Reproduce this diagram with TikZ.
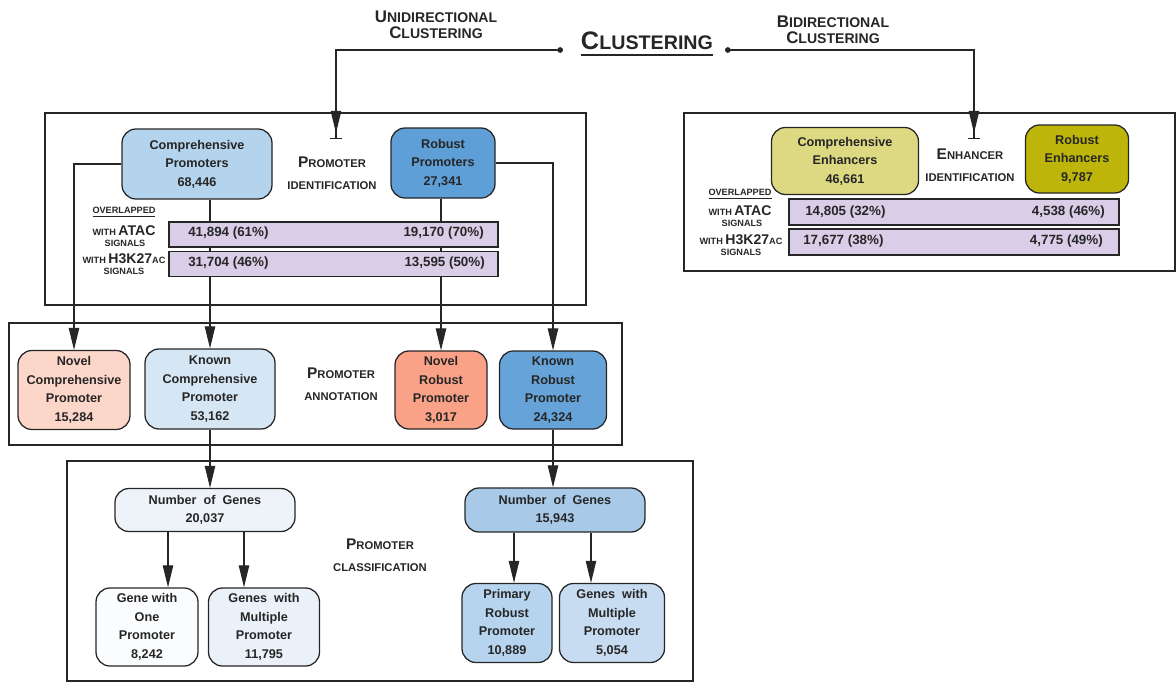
\documentclass[tikz,border=0pt]{standalone}
\usepackage{fontspec}
\setmainfont{Liberation Sans}
\usetikzlibrary{arrows.meta,calc}

\definecolor{azulclaro}{HTML}{B4D3EC}
\definecolor{azul}{HTML}{5D9FD6}
\definecolor{rosa}{HTML}{FDD6CA}
\definecolor{celeste}{HTML}{D5E6F5}
\definecolor{salmon}{HTML}{F9A287}
\definecolor{azulmedio}{HTML}{65A3D8}
\definecolor{hielo}{HTML}{EEF3FA}
\definecolor{blanco}{HTML}{FAFCFE}
\definecolor{hielob}{HTML}{EAF1F9}
\definecolor{cielo}{HTML}{A8CAE8}
\definecolor{cielob}{HTML}{B6D4EE}
\definecolor{cieloc}{HTML}{C7DCF0}
\definecolor{lila}{HTML}{D9CDE7}
\definecolor{mostaza}{HTML}{DCD982}
\definecolor{oliva}{HTML}{BDB509}
\definecolor{tinta}{HTML}{262626}

% versalitas falsas: inicial grande + resto pequeño
\newcommand{\versal}[4]{{\fontsize{#1}{#1}\selectfont #3}{\fontsize{#2}{#2}\selectfont #4}}

\tikzset{
  caja/.style={draw=tinta, line width=0.9pt, rounded corners=3.5mm, align=center, inner sep=0pt, text=tinta, font=\bfseries\fontsize{9}{13.2}\selectfont},
  tam/.style 2 args={minimum width=#1*0.025cm, minimum height=#2*0.025cm},
  barra/.style={draw=tinta, line width=0.9pt, fill=lila, inner sep=0pt},
  marco/.style={draw=tinta, line width=1pt},
  linea/.style={draw=tinta, line width=0.8pt},
  flecha/.style={linea, -{Triangle[length=5.5mm,width=2.6mm]}},
  etapa/.style={align=center, inner sep=0pt, text=tinta, font=\bfseries\fontsize{8}{15.6}\selectfont},
  cifra/.style={inner sep=0pt, text=tinta, font=\bfseries\fontsize{9.5}{11}\selectfont},
  mini/.style={inner sep=0pt, text=tinta, font=\bfseries\fontsize{6.5}{6.5}\selectfont},
  titulo/.style={align=center, inner sep=0pt, text=tinta, font=\bfseries\fontsize{10}{11.4}\selectfont}
}

\begin{document}
\begin{tikzpicture}[x=0.025cm, y=-0.025cm]

\useasboundingbox (0,0) rectangle (1176,683);

% Marcos de cada etapa
\draw[marco] (45,113) rectangle (586,305);
\draw[marco] (684,113) rectangle (1175,271);
\draw[marco] (9,323) rectangle (622,445);
\draw[marco] (67,461) rectangle (693,681);

% Título y tipos de agrupamiento
\node[anchor=base, inner sep=0pt, text=tinta, font=\bfseries] (clus) at (647,50) {\versal{18}{14}{C}{LUSTERING}};
\draw[tinta, line width=1.4pt] ($(clus.base west)+(0,5)$) -- ($(clus.base east)+(0,5)$);
\node[titulo] (uni) at (436,25) {\versal{12}{10}{U}{NIDIRECTIONAL}\\\versal{12}{10}{C}{LUSTERING}};
\node[titulo] (bi) at (833,30) {\versal{12}{10}{B}{IDIRECTIONAL}\\\versal{12}{10}{C}{LUSTERING}};

\coordinate (pI) at (563,50);
\coordinate (pD) at (725,50);
\coordinate (fI) at (336,139);
\coordinate (fD) at (974,139);
\draw[linea, {Circle[length=4pt]}-{Bar[width=8pt]}] (pI) -| (fI);
\draw[linea, {Circle[length=4pt]}-{Bar[width=8pt]}] (pD) -| (fD);
\draw[flecha] ($(fI)+(0,-30)$) -- ($(fI)+(0,-6)$);
\draw[flecha] ($(fD)+(0,-30)$) -- ($(fD)+(0,-6)$);

% 1. Identificación de promotores
\node[caja, fill=azulclaro, tam={150}{70}] (compP) at (197,164) {Comprehensive\\Promoters\\68,446};
\node[caja, fill=azul, tam={104}{70}] (robP) at (443,163) {Robust\\Promoters\\27,341};
\node[etapa] (idP) at (332,173) {\versal{11}{8}{P}{ROMOTER}\\IDENTIFICATION};

% 2. Anotación
\node[caja, fill=rosa, tam={112}{79}] (novC) at (74,390) {Novel\\Comprehensive\\Promoter\\15,284};
\node[caja, fill=celeste, tam={130}{80}] (knoC) at (210,389) {Known\\Comprehensive\\Promoter\\53,162};
\node[etapa] (anP) at (341,384) {\versal{11}{8}{P}{ROMOTER}\\ANNOTATION};
\node[caja, fill=salmon, tam={92}{78}] (novR) at (441,390) {Novel\\Robust\\Promoter\\3,017};
\node[caja, fill=azulmedio, tam={107}{78}] (knoR) at (553,390) {Known\\Robust\\Promoter\\24,324};

% 3. Clasificación
\node[caja, fill=hielo, tam={180}{43}] (genL) at (205,510) {Number\ \ of\ \ Genes\\20,037};
\node[caja, fill=blanco, tam={102}{78}] (oneP) at (147,627) {Gene with\\One\\Promoter\\8,242};
\node[caja, fill=hielob, tam={111}{78}] (mulL) at (264,627) {Genes\ \ with\\Multiple\\Promoter\\11,795};
\node[etapa] (clP) at (380,555) {\versal{11}{8}{P}{ROMOTER}\\CLASSIFICATION};
\node[caja, fill=cielo, tam={180}{44}] (genR) at (555,510) {Number\ \ of\ \ Genes\\15,943};
\node[caja, fill=cielob, tam={90}{79}] (priR) at (507,623) {Primary\\Robust\\Promoter\\10,889};
\node[caja, fill=cieloc, tam={105}{79}] (mulR) at (612,623) {Genes\ \ with\\Multiple\\Promoter\\5,054};

% 4. Identificación de enhancers
\node[caja, fill=mostaza, tam={147}{67}] (compE) at (845,161) {Comprehensive\\Enhancers\\46,661};
\node[caja, fill=oliva, tam={103}{68}] (robE) at (1077,159) {Robust\\Enhancers\\9,787};
\node[etapa] (idE) at (970,165) {\versal{11}{8}{E}{NHANCER}\\IDENTIFICATION};

% Conectores entre etapas
\draw[flecha] (compP.west) -| (novC.north);
\draw[flecha] (compP.south -| knoC.north) -- (knoC.north);
\draw[flecha] (robP.south -| novR.north) -- (novR.north);
\draw[flecha] (robP.east) -| (knoR.north);
\draw[flecha] (knoC.south) -- (knoC.south |- genL.north);
\draw[flecha] (knoR.south) -- (knoR.south |- genR.north);

\coordinate (aOne) at ([xshift=5.25mm]oneP.north);
\coordinate (aMulL) at ([xshift=-5mm]mulL.north);
\coordinate (aPri) at ([xshift=1.75mm]priR.north);
\coordinate (aMulR) at ([xshift=-5.25mm]mulR.north);
\draw[flecha] (aOne |- genL.south) -- (aOne);
\draw[flecha] (aMulL |- genL.south) -- (aMulL);
\draw[flecha] (aPri |- genR.south) -- (aPri);
\draw[flecha] (aMulR |- genR.south) -- (aMulR);

% Barras de solapamiento (encima de las líneas)
\node[barra, tam={329}{25}] (atacP) at (333.5,234.5) {};
\node[barra, tam={329}{25}] (h3P) at (333.5,264) {};
\node[cifra, anchor=west] (atacP1) at (188,233) {41,894 (61\%)};
\node[cifra, anchor=east] (atacP2) at (484,233) {19,170 (70\%)};
\node[cifra, anchor=west] (h3P1) at (188,263) {31,704 (46\%)};
\node[cifra, anchor=east] (h3P2) at (485,263) {13,595 (50\%)};

\node[barra, tam={330}{26}] (atacE) at (954,212) {};
\node[barra, tam={330}{26}] (h3E) at (954,242) {};
\node[cifra, anchor=west] (atacE1) at (805,212) {14,805 (32\%)};
\node[cifra, anchor=east] (atacE2) at (1105,212) {4,538 (46\%)};
\node[cifra, anchor=west] (h3E1) at (803,241) {17,677 (38\%)};
\node[cifra, anchor=east] (h3E2) at (1103,241) {4,775 (49\%)};

% Etiquetas de solapamiento
\node[mini] (solP) at (124,212) {\underline{OVERLAPPED}};
\node[mini] (conAP) at (124,231) {WITH {\fontsize{10}{10}\selectfont ATAC}};
\node[mini] (senAP) at (125,243) {SIGNALS};
\node[mini] (conHP) at (124,259) {WITH {\fontsize{10}{10}\selectfont H3K27}AC};
\node[mini] (senHP) at (124,271) {SIGNALS};

\node[mini] (solE) at (740,194) {\underline{OVERLAPPED}};
\node[mini] (conAE) at (740,211) {WITH {\fontsize{10}{10}\selectfont ATAC}};
\node[mini] (senAE) at (742,223) {SIGNALS};
\node[mini] (conHE) at (741,240) {WITH {\fontsize{10}{10}\selectfont H3K27}AC};
\node[mini] (senHE) at (741,252) {SIGNALS};
\end{tikzpicture}
\end{document}
